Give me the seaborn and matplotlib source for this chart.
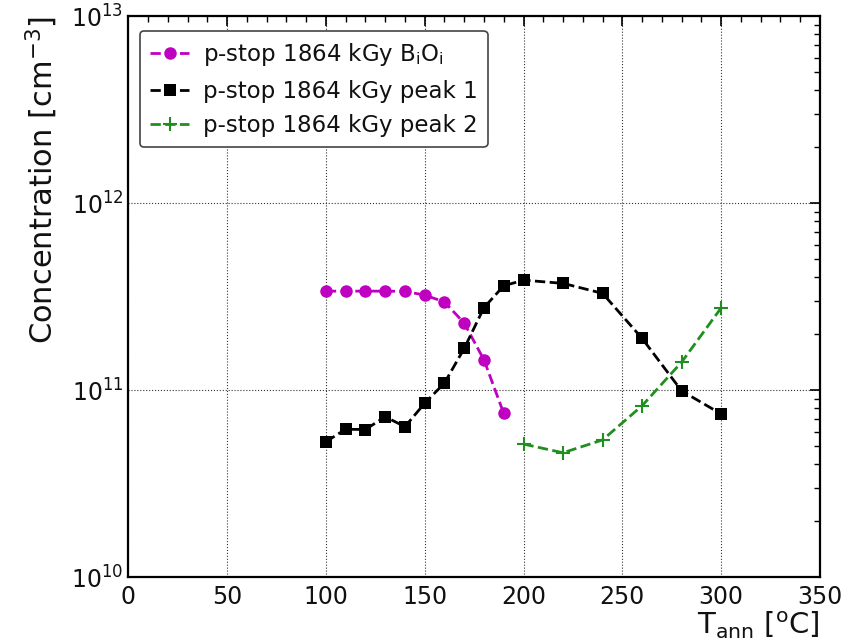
import matplotlib
matplotlib.use("Agg")
import matplotlib.pyplot as plt
import seaborn as sns
import pandas as pd
import numpy as np
from matplotlib.ticker import MultipleLocator, LogLocator

sns.set_style("white")
plt.rcParams['font.family'] = ['DejaVu Sans']
plt.rcParams['mathtext.default'] = 'regular'
plt.rcParams['text.color'] = '#111111'
plt.rcParams['axes.labelcolor'] = '#111111'

t_bioi = [100, 110, 120, 130, 140, 150, 160, 170, 180, 190]
c_bioi = [3.38e11, 3.38e11, 3.38e11, 3.38e11, 3.37e11, 3.22e11, 2.96e11, 2.28e11, 1.45e11, 7.5e10]

t_peak1 = [100, 110, 120, 130, 140, 150, 160, 170, 180, 190, 200, 220, 240, 260, 280, 300]
c_peak1 = [5.29e10, 6.17e10, 6.15e10, 7.2e10, 6.37e10, 8.5e10, 1.09e11, 1.67e11, 2.76e11,
           3.61e11, 3.87e11, 3.72e11, 3.29e11, 1.89e11, 9.9e10, 7.45e10]

t_peak2 = [200, 220, 240, 260, 280, 300]
c_peak2 = [5.14e10, 4.62e10, 5.41e10, 8.24e10, 1.41e11, 2.75e11]

labels = ["p-stop 1864 kGy B$_{\\rm i}$O$_{\\rm i}$",
          "p-stop 1864 kGy peak 1",
          "p-stop 1864 kGy peak 2"]

fig = plt.figure(figsize=(8.55, 6.43), dpi=100)
ax = fig.add_axes([0.150, 0.1026, 0.809, 0.8724])

magenta = '#c000c0'
green = '#1f8f1f'
sns.lineplot(x=t_bioi, y=c_bioi, ax=ax, color=magenta, linestyle='--', linewidth=2,
             marker='o', markersize=9, markeredgewidth=0, markeredgecolor=magenta,
             label=labels[0])
sns.lineplot(x=t_peak1, y=c_peak1, ax=ax, color='black', linestyle='--', linewidth=2,
             marker='s', markersize=9, markeredgewidth=0, markeredgecolor='black',
             label=labels[1])
sns.lineplot(x=t_peak2, y=c_peak2, ax=ax, color=green, linestyle='--', linewidth=2,
             marker='+', markersize=10, markeredgewidth=1.5, markeredgecolor=green,
             label=labels[2])

ax.set_yscale('log')
ax.set_xlim(0, 350)
ax.set_ylim(1e10, 1e13)
ax.xaxis.set_major_locator(MultipleLocator(50))
ax.xaxis.set_minor_locator(MultipleLocator(10))
ax.yaxis.set_major_locator(LogLocator(base=10, numticks=10))
ax.yaxis.set_minor_locator(LogLocator(base=10, subs=np.arange(2, 10), numticks=20))

ax.grid(True, which='major', color='black', linestyle=':', linewidth=0.8, alpha=0.8)
ax.tick_params(which='both', direction='in', top=True, right=True, colors='black',
               labelcolor='#111111', labelsize=17)
ax.tick_params(which='major', length=7, width=1.2)
ax.tick_params(which='minor', length=4, width=1)
ax.tick_params(axis='x', pad=6)
for s in ax.spines.values():
    s.set_color('black')
    s.set_linewidth(1.6)

ax.set_ylabel("Concentration [cm$^{-3}$]", fontsize=22, labelpad=8, loc='top')
ax.set_xlabel("T$_{\\rm ann}$ [$^{\\rm o}$C]", fontsize=21, loc='right', labelpad=0)

leg = ax.legend(loc='upper left', fontsize=16.5, frameon=True, fancybox=True,
                edgecolor='#444444', framealpha=1, numpoints=1, handlelength=1.7,
                handletextpad=0.6, borderpad=0.45, labelspacing=0.5,
                bbox_to_anchor=(0.0, 0.994))
leg.get_frame().set_linewidth(1.2)

fig.savefig("out.png", dpi=100)
